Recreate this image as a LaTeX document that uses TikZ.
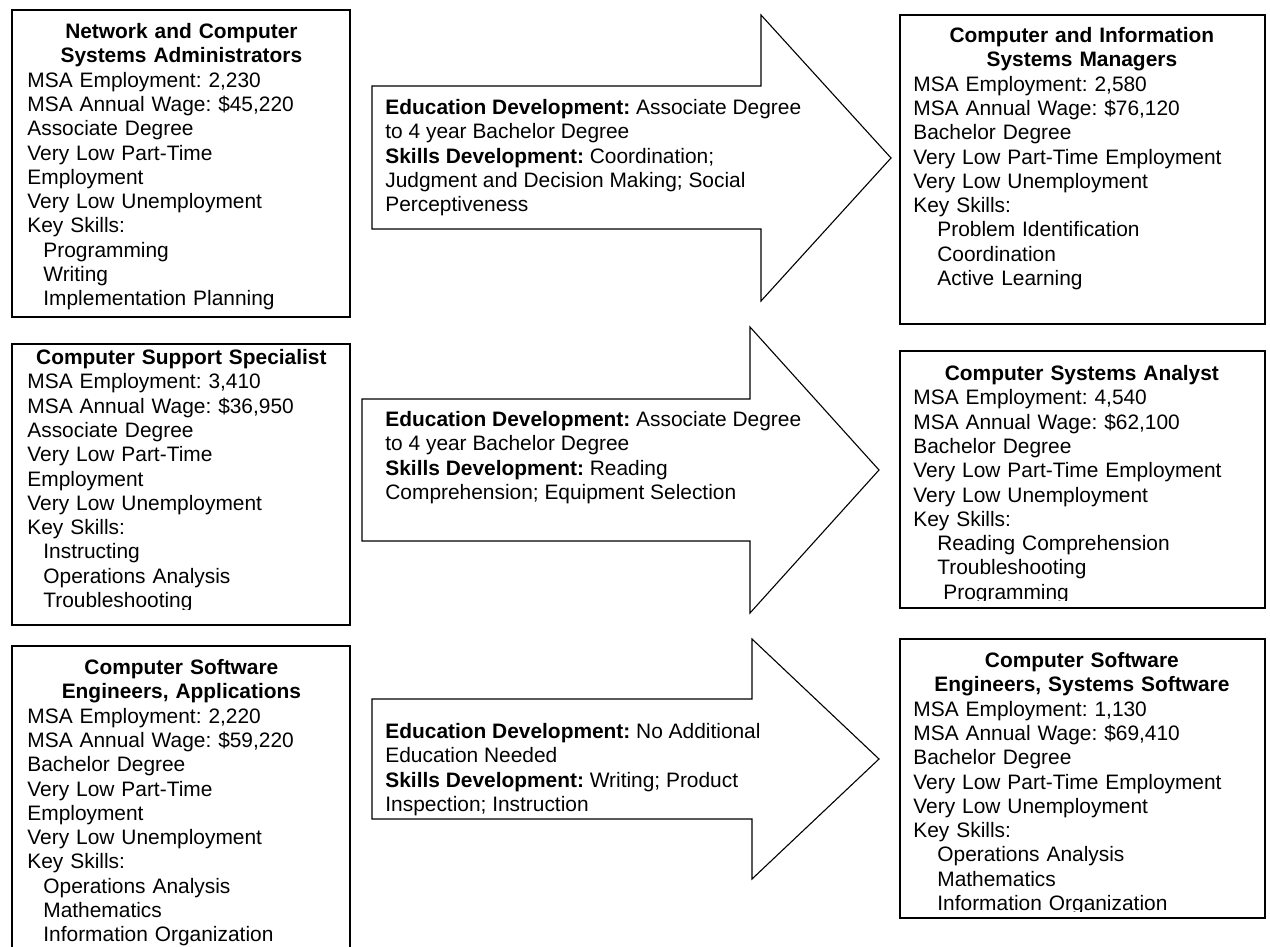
\documentclass[tikz,border=0pt]{standalone}
\usepackage{fontspec}
\setmainfont{Liberation Sans}
\usepackage{tikz}
\frenchspacing

\newcommand{\jobtitle}[1]{{\centering\bfseries #1\par}}
\newcommand{\kskill}[2][8pt]{\hspace*{#1}#2}

\tikzset{
  cell/.style={draw=black,line width=0.7pt},
  blockarrow/.style={draw=black,line width=0.55pt,fill=white,line join=miter},
  jobtext/.style={anchor=north west,inner sep=0pt,font=\fontsize{10.45}{12.15}\selectfont},
  devtext/.style={anchor=north west,inner sep=0pt,align=left,font=\fontsize{10.45}{12.15}\selectfont}
}

\begin{document}
\begin{tikzpicture}[x=0.5pt,y=-0.5pt]
  \clip (0,0) rectangle (1270,947);

  % current occupations
  \draw[cell] (12,10) rectangle (350,317);
  \node[jobtext,text width=154pt] (netadmin) at (27,23) {\jobtitle{Network and Computer\\Systems Administrators}
    MSA Employment: 2,230\\MSA Annual Wage: \$45,220\\Associate Degree\\Very Low Part-Time\\Employment\\
    Very Low Unemployment\\Key Skills:\\\kskill{Programming}\\\kskill{Writing}\\\kskill{Implementation Planning}};

  \draw[cell] (12,344) rectangle (350,625);
  \begin{scope}
    \clip (12,344) rectangle (350,609);
    \node[jobtext,text width=154pt] (support) at (27,349) {\jobtitle{Computer Support Specialist}
      MSA Employment: 3,410\\MSA Annual Wage: \$36,950\\Associate Degree\\Very Low Part-Time\\Employment\\
      Very Low Unemployment\\Key Skills:\\\kskill{Instructing}\\\kskill{Operations Analysis}\\\kskill{Troubleshooting}};
  \end{scope}

  \draw[cell] (12,646) rectangle (350,990);
  \node[jobtext,text width=154pt] (swapps) at (27,659) {\jobtitle{Computer Software\\Engineers, Applications}
    MSA Employment: 2,220\\MSA Annual Wage: \$59,220\\Bachelor Degree\\Very Low Part-Time\\Employment\\
    Very Low Unemployment\\Key Skills:\\\kskill{Operations Analysis}\\\kskill{Mathematics}\\\kskill{Information Organization}};

  % development paths
  \draw[blockarrow] (372,86) -- (761,86) -- (761,15) -- (891,158) -- (761,301) -- (761,229) -- (372,229) -- cycle;
  \node[devtext] (path1) at (385,99) {\textbf{Education Development:} Associate Degree\\to 4 year Bachelor Degree\\
    \textbf{Skills Development:} Coordination;\\Judgment and Decision Making; Social\\Perceptiveness};

  \draw[blockarrow] (362,399) -- (750,399) -- (750,327) -- (879,470) -- (750,613) -- (750,541) -- (362,541) -- cycle;
  \node[devtext] (path2) at (385,411) {\textbf{Education Development:} Associate Degree\\to 4 year Bachelor Degree\\
    \textbf{Skills Development:} Reading\\Comprehension; Equipment Selection};

  \draw[blockarrow] (372,699) -- (752,699) -- (752,639) -- (879,759) -- (752,879) -- (752,819) -- (372,819) -- cycle;
  \node[devtext] (path3) at (385,723) {\textbf{Education Development:} No Additional\\Education Needed\\
    \textbf{Skills Development:} Writing; Product\\Inspection; Instruction};

  % target occupations
  \draw[cell] (900,15) rectangle (1265,324);
  \node[jobtext,text width=168.5pt] (ismanager) at (913,27) {\jobtitle{Computer and Information\\Systems Managers}
    MSA Employment: 2,580\\MSA Annual Wage: \$76,120\\Bachelor Degree\\Very Low Part-Time Employment\\
    Very Low Unemployment\\Key Skills:\\\kskill[12pt]{Problem Identification}\\\kskill[12pt]{Coordination}\\\kskill[12pt]{Active Learning}};

  \draw[cell] (900,351) rectangle (1265,608);
  \begin{scope}
    \clip (900,351) rectangle (1265,600);
    \node[jobtext,text width=168.5pt] (analyst) at (913,365) {\jobtitle{Computer Systems Analyst}
      MSA Employment: 4,540\\MSA Annual Wage: \$62,100\\Bachelor Degree\\Very Low Part-Time Employment\\
      Very Low Unemployment\\Key Skills:\\\kskill[12pt]{Reading Comprehension}\\\kskill[12pt]{Troubleshooting}\\\kskill[15pt]{Programming}};
  \end{scope}

  \draw[cell] (900,639) rectangle (1265,918);
  \begin{scope}
    \clip (900,639) rectangle (1265,911);
    \node[jobtext,text width=168.5pt] (swsystems) at (913,652) {\jobtitle{Computer Software\\Engineers, Systems Software}
      MSA Employment: 1,130\\MSA Annual Wage: \$69,410\\Bachelor Degree\\Very Low Part-Time Employment\\
      Very Low Unemployment\\Key Skills:\\\kskill[12pt]{Operations Analysis}\\\kskill[12pt]{Mathematics}\\\kskill[12pt]{Information Organization}};
  \end{scope}
\end{tikzpicture}
\end{document}
